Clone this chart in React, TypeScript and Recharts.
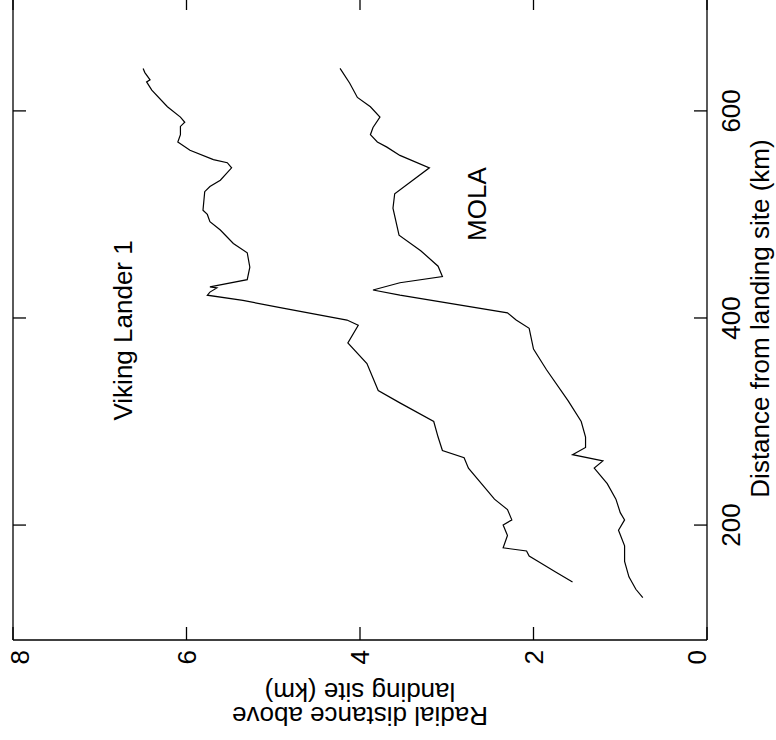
import React from "react";
import { LineChart, Line, XAxis, YAxis, ReferenceDot } from "recharts";

// Viking Lander 1 profile (distance km, radial km)
const vikingDistance = [
  145, 155, 165, 170, 175, 178, 190, 200, 205, 215, 225, 240, 255, 265, 272, 285, 300, 318, 330, 356,
  376, 393, 398, 410, 417, 422, 425, 429, 430, 437, 449, 463, 472, 485, 493, 500, 504, 522, 527, 533,
  545, 550, 553, 562, 570, 577, 585, 589, 594, 604, 620, 628, 630, 637, 641,
];
const vikingRadial = [
  1.55, 1.75, 1.95, 2.05, 2.08, 2.35, 2.3, 2.35, 2.25, 2.3, 2.45, 2.6, 2.75, 2.8, 3.05, 3.1, 3.15, 3.54, 3.79, 3.92,
  4.14, 4.02, 4.15, 4.92, 5.35, 5.76, 5.73, 5.65, 5.73, 5.3, 5.27, 5.3, 5.46, 5.61, 5.73, 5.76, 5.81, 5.79, 5.73, 5.61,
  5.48, 5.53, 5.69, 5.96, 6.1, 6.07, 6.07, 6.02, 6.07, 6.22, 6.4, 6.46, 6.42, 6.48, 6.5,
];

// MOLA profile
const molaDistance = [
  130, 138, 150, 165, 180, 195, 205, 212, 225, 240, 255, 262, 268, 275, 285, 300, 320, 350, 370, 390, 398, 405,
  422, 427, 434, 440, 450, 465, 480, 506, 520, 545, 557, 565, 570, 577, 584, 594, 604, 613, 627, 641,
];
const molaRadial = [
  0.74, 0.82, 0.9, 0.95, 0.95, 1.02, 0.95, 1.0, 1.05, 1.15, 1.3, 1.2, 1.55, 1.4, 1.4, 1.45, 1.6, 1.85, 2.0, 2.05, 2.2, 2.3,
  3.54, 3.85, 3.54, 3.05, 3.1, 3.3, 3.55, 3.62, 3.6, 3.2, 3.54, 3.69, 3.8, 3.88, 3.85, 3.77, 3.88, 4.03, 4.12, 4.23,
];

const distanceTicks = [200, 400, 600];
const radialTicks = [0, 2, 4, 6, 8];

const vikingData = vikingDistance.map((d, i) => ({ d, r: vikingRadial[i] }));
const molaData = molaDistance.map((d, i) => ({ d, r: molaRadial[i] }));

const FONT = "'Liberation Sans', Arial, Helvetica, sans-serif";
const FS = 26;

const RadialTick = (props: any) => {
  const { x, y, payload } = props;
  // end labels are pulled inside the frame
  const shift = payload.value === 8 ? 7 : payload.value === 0 ? -10 : 0;
  return (
    <text x={x} y={y + shift} dy="0.36em" textAnchor="end" fontSize={FS} fontFamily={FONT} fill="#000">
      {payload.value}
    </text>
  );
};

const RadialLabel = (props: any) => {
  const vb = props.viewBox || { x: 0, y: 13, width: 100, height: 694 };
  const cx = vb.x;
  const cy = vb.y + vb.height / 2;
  return (
    <text
      transform={`rotate(-90, ${cx}, ${cy})`}
      x={cx}
      y={cy}
      textAnchor="middle"
      fontSize={FS}
      fontFamily={FONT}
      fill="#000"
    >
      <tspan x={cx} dy={33}>Radial distance above</tspan>
      <tspan x={cx} dy={24}>landing site (km)</tspan>
    </text>
  );
};

const empty = () => "";

export default function App() {
  return (
    <div
      style={{
        position: "fixed",
        left: 0,
        top: 0,
        width: 776,
        height: 740,
        overflow: "hidden",
        background: "#fff",
        fontFamily: FONT,
      }}
    >
      {/* chart is drawn upright, then turned a quarter to the left like the original figure */}
      <div
        style={{
          position: "absolute",
          left: 0,
          top: 0,
          width: 750,
          height: 776,
          transform: "translate(0px, 740px) rotate(-90deg)",
          transformOrigin: "0 0",
        }}
      >
        <LineChart width={750} height={776} margin={{ top: 0, right: 0, bottom: 0, left: 0 }}>
          <XAxis
            xAxisId="b"
            type="number"
            dataKey="d"
            domain={[89, 710]}
            allowDataOverflow
            ticks={distanceTicks}
            orientation="bottom"
            height={69}
            tickSize={-13}
            tickMargin={28}
            stroke="#000"
            strokeWidth={1.3}
            tick={{ fontSize: FS, fill: "#000", fontFamily: FONT }}
            label={{
              value: "Distance from landing site (km)",
              position: "insideBottom",
              offset: 7,
              fontSize: FS,
              fill: "#000",
              fontFamily: FONT,
            }}
          />
          <XAxis
            xAxisId="t"
            type="number"
            dataKey="d"
            domain={[89, 710]}
            allowDataOverflow
            ticks={distanceTicks}
            orientation="top"
            height={13}
            tickSize={-13}
            tickFormatter={empty}
            stroke="#000"
            strokeWidth={1.3}
          />
          <YAxis
            yAxisId="l"
            type="number"
            domain={[0, 8]}
            allowDataOverflow
            ticks={radialTicks}
            width={100}
            tickSize={-13}
            tickMargin={23}
            stroke="#000"
            strokeWidth={1.3}
            tick={<RadialTick />}
            label={RadialLabel}
          />
          <YAxis
            yAxisId="r"
            orientation="right"
            type="number"
            domain={[0, 8]}
            allowDataOverflow
            ticks={radialTicks}
            width={7}
            tickSize={-13}
            tickFormatter={empty}
            stroke="#000"
            strokeWidth={1.3}
          />
          <Line
            xAxisId="b"
            yAxisId="l"
            data={vikingData}
            dataKey="r"
            type="linear"
            stroke="#000"
            strokeWidth={1.2}
            dot={false}
            isAnimationActive={false}
          />
          <Line
            xAxisId="b"
            yAxisId="l"
            data={molaData}
            dataKey="r"
            type="linear"
            stroke="#000"
            strokeWidth={1.2}
            dot={false}
            isAnimationActive={false}
          />
          <ReferenceDot
            xAxisId="b"
            yAxisId="l"
            x={388}
            y={6.74}
            r={0}
            stroke="none"
            label={{ value: "Viking Lander 1", position: "center", fontSize: FS, fill: "#000", fontFamily: FONT }}
          />
          <ReferenceDot
            xAxisId="b"
            yAxisId="l"
            x={510}
            y={2.65}
            r={0}
            stroke="none"
            label={{ value: "MOLA", position: "center", fontSize: FS, fill: "#000", fontFamily: FONT }}
          />
        </LineChart>
      </div>
    </div>
  );
}
